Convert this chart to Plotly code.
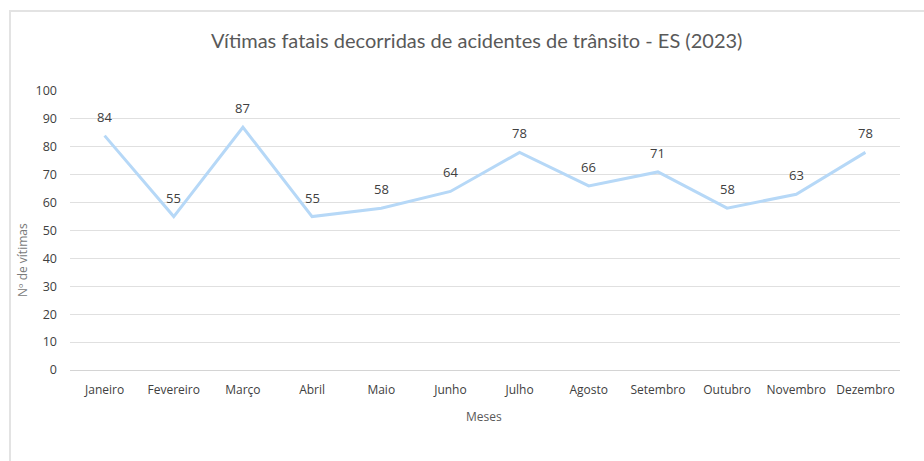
import plotly.graph_objects as go

meses = ["Janeiro", "Fevereiro", "Março", "Abril", "Maio", "Junho",
         "Julho", "Agosto", "Setembro", "Outubro", "Novembro", "Dezembro"]
vitimas = [84, 55, 87, 55, 58, 64, 78, 66, 71, 58, 63, 78]
y_ticks = [0, 10, 20, 30, 40, 50, 60, 70, 80, 90, 100]

W, H = 924, 461
ML, MR, MT, MB = 70, 24, 91, 91
PW, PH = W - ML - MR, H - MT - MB

FONT = "'Open Sans', sans-serif"
TITLE_FONT = "Lato, sans-serif"
TXT = "#595959"

fig = go.Figure()
fig.add_trace(go.Scatter(
    x=list(range(len(meses))), y=vitimas, mode="lines",
    line=dict(color="#b6d8f7", width=3), hoverinfo="skip", showlegend=False,
))

# value labels above each point
for i, v in enumerate(vitimas):
    fig.add_annotation(x=i, y=v, text=str(v), showarrow=False, yshift=19,
                       font=dict(family=FONT, size=13, color="#404040"))

def px_x(p):
    return (p - ML) / PW

def px_y(p):
    return 1 - (p - MT) / PH

# chart area border
fig.add_shape(type="rect", xref="paper", yref="paper",
              x0=px_x(10), x1=px_x(940), y0=px_y(480), y1=px_y(11),
              line=dict(color="#e3e3e3", width=2), fillcolor="rgba(0,0,0,0)", layer="below")

fig.add_annotation(xref="paper", yref="paper", x=px_x(476), y=px_y(40),
                   xanchor="center", yanchor="middle",
                   text="Vítimas fatais decorridas de acidentes de trânsito - ES (2023)",
                   showarrow=False, font=dict(family=TITLE_FONT, size=20, color=TXT))
fig.add_annotation(xref="paper", yref="paper", x=px_x(484), y=px_y(416),
                   xanchor="center", yanchor="middle",
                   text="Meses", showarrow=False, font=dict(family=FONT, size=12, color=TXT))
fig.add_annotation(xref="paper", yref="paper", x=px_x(22), y=px_y(260),
                   xanchor="center", yanchor="middle",
                   text="Nº de vítimas", textangle=-90, showarrow=False,
                   font=dict(family=FONT, size=12, color="#7a7a7a"))

fig.update_layout(
    width=W, height=H, margin=dict(l=ML, r=MR, t=MT, b=MB),
    paper_bgcolor="white", plot_bgcolor="white",
    font=dict(family=FONT, size=12, color="#404040"),
    xaxis=dict(range=[-0.5, len(meses) - 0.5], tickmode="array",
               tickvals=list(range(len(meses))), ticktext=meses,
               showgrid=False, zeroline=False, showline=False, ticks="",
               ticklabelstandoff=11, tickfont=dict(size=12, color="#404040")),
    yaxis=dict(range=[0, 100], tickmode="array", tickvals=y_ticks,
               showgrid=True, gridcolor="#e0e0e0", gridwidth=1,
               zeroline=True, zerolinecolor="#d4d4d4", zerolinewidth=1,
               showline=False, ticks="", ticklabelstandoff=12,
               tickfont=dict(size=12.5, color="#404040")),
)

fig.write_html("out.html")
